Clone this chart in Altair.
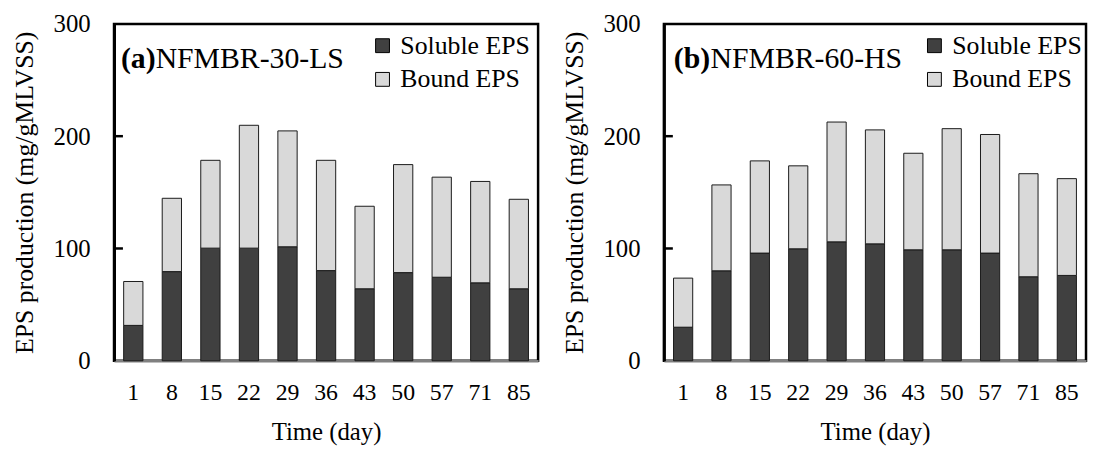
import altair as alt
import pandas as pd

days = ["1", "8", "15", "22", "29", "36", "43", "50", "57", "71", "85"]
a_soluble = [31.5, 79.4, 100.3, 100.3, 101.5, 80.3, 64.1, 78.5, 74.4, 69.4, 64.1]
a_bound = [39.1, 65.3, 78.2, 109.4, 103.2, 98.2, 73.5, 96.2, 89.1, 90.3, 79.7]
b_soluble = [29.9, 80.1, 95.9, 99.7, 105.9, 104.1, 98.8, 98.8, 95.9, 74.8, 76.0]
b_bound = [43.7, 76.5, 82.1, 73.9, 106.7, 101.5, 86.0, 107.9, 105.6, 91.8, 86.2]
series = ["Soluble EPS", "Bound EPS"]
colors = ["#404040", "#d9d9d9"]
y_ticks = [0, 100, 200, 300]
inner_ticks = [100, 200]

FONT = "Liberation Serif"


def panel(sol, bnd, tag, name, w, tag_x, name_x, leg_x):
    n = len(days)
    df = pd.DataFrame({
        "day": days * 2,
        "series": [series[0]] * n + [series[1]] * n,
        "value": sol + bnd,
        "ord": [0] * n + [1] * n,
    })
    bars = alt.Chart(df).mark_bar(stroke="#1a1a1a", strokeWidth=1).encode(
        x=alt.X("day:N", sort=days,
                scale=alt.Scale(paddingInner=0.5, paddingOuter=0.25),
                axis=alt.Axis(title="Time (day)", labelAngle=0, ticks=False, tickSize=0,
                              labelPadding=20, labelFont=FONT, labelFontSize=24,
                              labelColor="black", titleFont=FONT, titleFontSize=25,
                              titleFontWeight="normal", titleColor="black", titlePadding=15,
                              domainColor="#808080", domainWidth=2.5)),
        y=alt.Y("value:Q", stack="zero",
                scale=alt.Scale(domain=[0, 300], nice=False),
                axis=alt.Axis(values=y_ticks, title="EPS production (mg/gMLVSS)", grid=False,
                              ticks=False, tickSize=0, labelPadding=24, labelFont=FONT,
                              labelFontSize=25, labelColor="black", titleFont=FONT,
                              titleFontSize=26, titleFontWeight="normal", titleColor="black",
                              titlePadding=16, domainColor="black", domainWidth=3)),
        color=alt.Color("series:N", scale=alt.Scale(domain=series, range=colors),
                        legend=alt.Legend(orient="none", legendX=leg_x, legendY=9, title=None,
                                          symbolType="square", symbolSize=196,
                                          symbolStrokeColor="black", symbolStrokeWidth=1,
                                          labelFont=FONT, labelFontSize=26, labelColor="black",
                                          rowPadding=8, padding=0, labelOffset=5)),
        order=alt.Order("ord:Q"),
    )
    ticks = alt.Chart(pd.DataFrame({"value": inner_ticks})).mark_rule(
        color="black", strokeWidth=2.5).encode(
        y=alt.Y("value:Q"), x=alt.value(0), x2=alt.value(9))
    one = pd.DataFrame({"k": [0]})
    tag_text = alt.Chart(one).mark_text(
        text=tag, font=FONT, fontSize=30, fontWeight="bold", align="left",
        baseline="alphabetic", color="black").encode(x=alt.value(tag_x), y=alt.value(45))
    name_text = alt.Chart(one).mark_text(
        text=name, font=FONT, fontSize=30, fontWeight="normal", align="left",
        baseline="alphabetic", color="black").encode(x=alt.value(name_x), y=alt.value(45))
    return alt.layer(bars, ticks, tag_text, name_text).properties(width=w, height=340)


pa = panel(a_soluble, a_bound, "(a)", "NFMBR-30-LS", 428, 7, 42, 258)
pb = panel(b_soluble, b_bound, "(b)", "NFMBR-60-HS", 426, 10, 47, 260)

chart = alt.hconcat(pa, pb, spacing=20).resolve_legend(color="independent").configure_view(
    stroke="black", strokeWidth=2.5).properties(
    padding={"left": 2, "top": 0, "right": 0, "bottom": 0}, background="white")

chart.save("out.html", embed_options={"renderer": "svg", "actions": False})
